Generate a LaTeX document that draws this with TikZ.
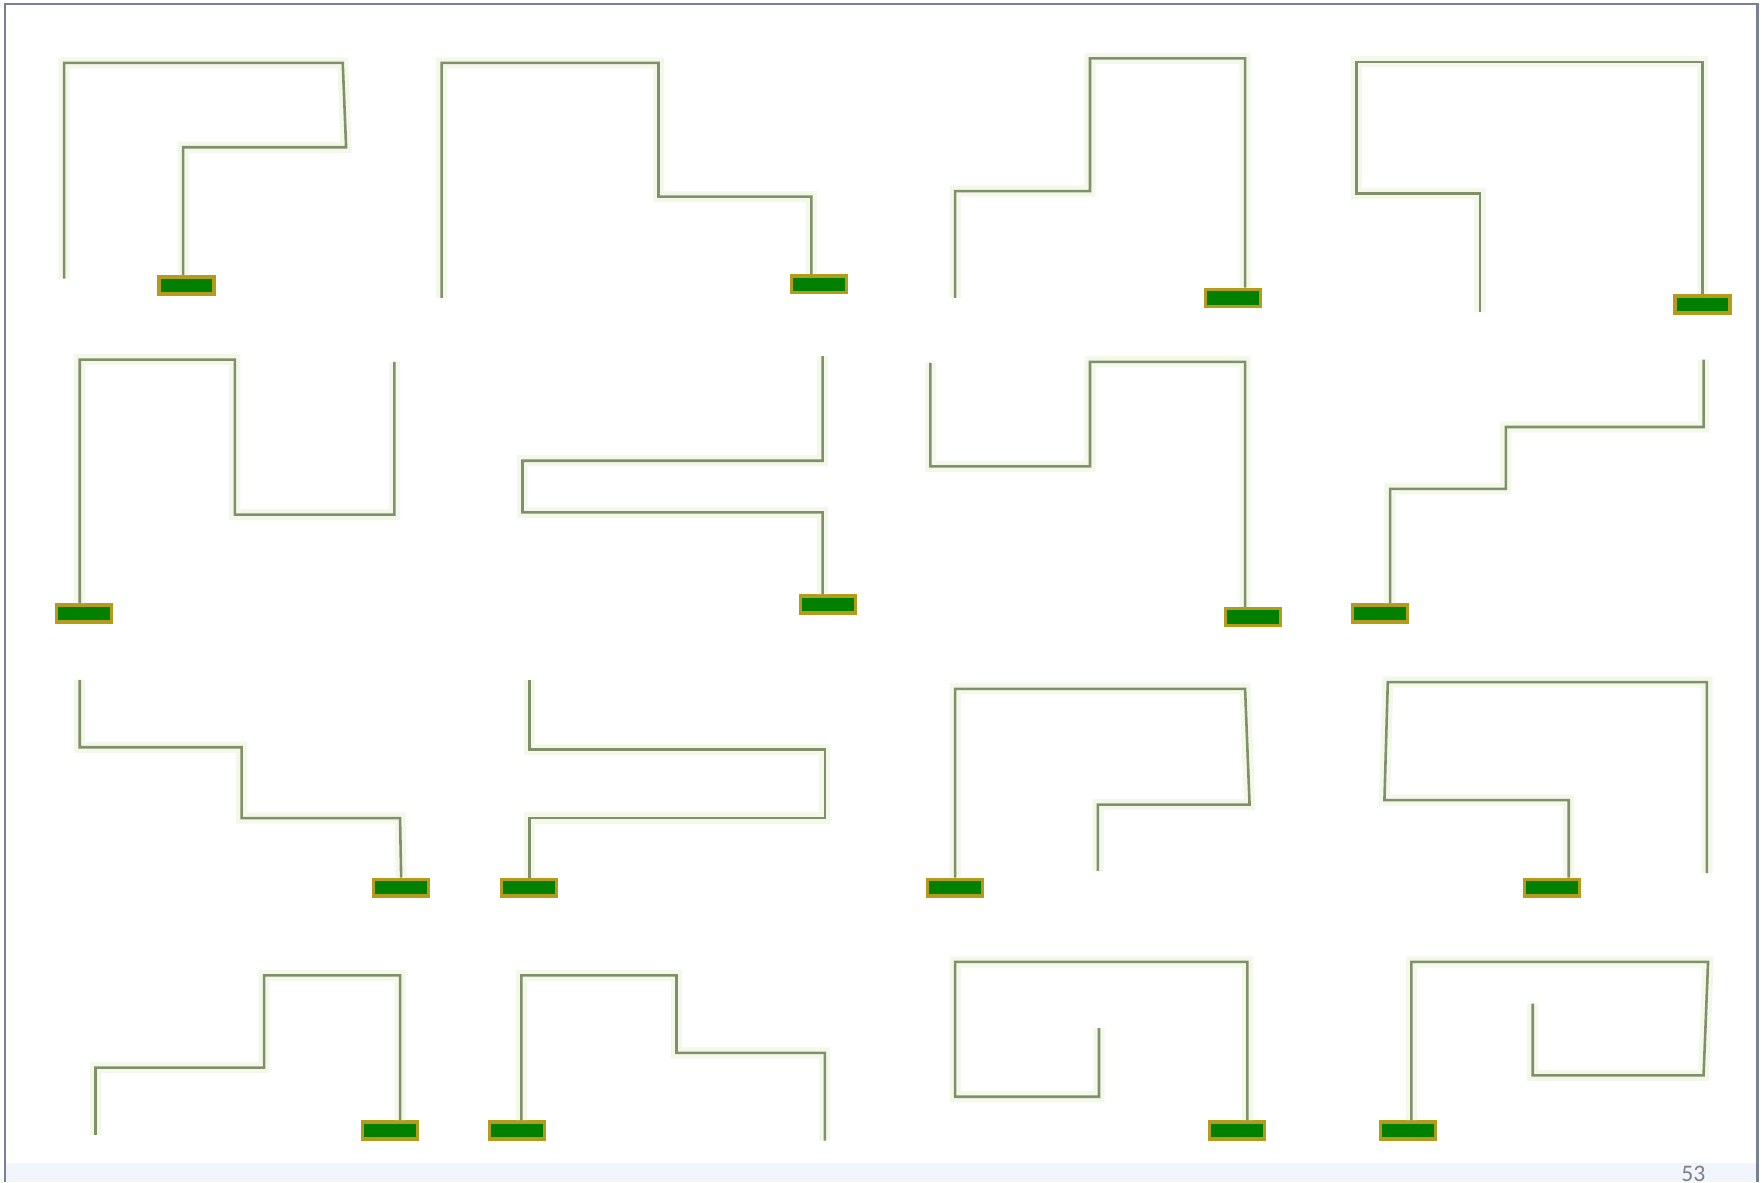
\documentclass[tikz,border=0pt]{standalone}
\usepackage{fontspec}
\setmainfont{Carlito}
\usepackage{tikz}

\definecolor{wirecol}{RGB}{128,144,104}
\definecolor{glowcol}{RGB}{228,240,208}
\definecolor{padfill}{RGB}{0,128,0}
\definecolor{padedge}{RGB}{180,155,25}
\definecolor{framecol}{RGB}{120,128,150}
\definecolor{bandcol}{RGB}{240,246,252}

\begin{document}
\begin{tikzpicture}[x=0.1mm, y=-0.1mm,
  wire/.style={draw=wirecol, line width=0.23mm, line join=miter,
    preaction={draw=glowcol, line width=1mm, opacity=0.45}},
  pad/.style={draw=padedge, fill=padfill, line width=0.3mm, inner sep=0pt,
    minimum width=4.9mm, minimum height=1.5mm}]
  \useasboundingbox (0,0) rectangle (1568,1052);
  % frame
  \fill[bandcol] (4.5,1035) rectangle (1564,1052);
  \draw[framecol, line width=0.25mm] (4.5,1052)--(4.5,3.5)--(1564,3.5)--(1564,1052);
  % pads
  \node[pad] (pA) at (166,254) {};
  \node[pad] (pB) at (729,253) {};
  \node[pad] (pC) at (1097,265) {};
  \node[pad] (pD) at (1515,271) {};
  \node[pad] (pE) at (75,546) {};
  \node[pad] (pF) at (737,538) {};
  \node[pad] (pG) at (1115,549) {};
  \node[pad] (pH) at (1228,546) {};
  \node[pad] (pI) at (357,790) {};
  \node[pad] (pJ) at (471,790) {};
  \node[pad] (pK) at (850,790) {};
  \node[pad] (pL) at (1381,790) {};
  \node[pad] (pM) at (347,1006) {};
  \node[pad] (pN) at (460,1006) {};
  \node[pad] (pO) at (1101,1006) {};
  \node[pad] (pP) at (1253,1006) {};
  % free ends
  \coordinate (eA) at (57,248);
  \coordinate (eB) at (393,265);
  \coordinate (eC) at (850,265);
  \coordinate (eD) at (1317,278);
  \coordinate (eE) at (351,322);
  \coordinate (eF) at (732,317);
  \coordinate (eG) at (828,323);
  \coordinate (eH) at (1516,320);
  \coordinate (eI) at (71,605);
  \coordinate (eJ) at (471,605);
  \coordinate (eK) at (977,775);
  \coordinate (eL) at (1519,777);
  \coordinate (eM) at (85,1010);
  \coordinate (eN) at (734,1015);
  \coordinate (eO) at (978,915);
  \coordinate (eP) at (1364,893);
  % row 1
  \draw[wire] ([xshift=-0.3mm]pA.north)--(163,131)--(308,131)--(305,56)--(57,56)--(eA);
  \draw[wire] ([xshift=-0.7mm]pB.north)--(722,175)--(586,175)--(586,56)--(393,56)--(eB);
  \draw[wire] ([xshift=1.1mm]pC.north)--(1108,52)--(970,52)--(970,170)--(850,170)--(eC);
  \draw[wire] (pD.north)--(1515,55)--(1207,55)--(1207,172)--(1317,172)--(eD);
  % row 2
  \draw[wire] ([xshift=-0.4mm]pE.north)--(71,320)--(209,320)--(209,458)--(351,458)--(eE);
  \draw[wire] ([xshift=-0.5mm]pF.north)--(732,456)--(465,456)--(465,410)--(732,410)--(eF);
  \draw[wire] ([xshift=-0.7mm]pG.north)--(1108,322)--(970,322)--(970,415)--(828,415)--(eG);
  \draw[wire] ([xshift=0.9mm]pH.north)--(1237,435)--(1340,435)--(1340,380)--(1516,380)--(eH);
  % row 3
  \draw[wire] (pI.north)--(356,728)--(215,728)--(215,665)--(71,665)--(eI);
  \draw[wire] (pJ.north)--(471,728)--(734,728)--(734,667)--(471,667)--(eJ);
  \draw[wire] (pK.north)--(850,613)--(1108,613)--(1112,716)--(977,716)--(eK);
  \draw[wire] ([xshift=1.5mm]pL.north)--(1396,712)--(1232,712)--(1235,607)--(1519,607)--(eL);
  % row 4
  \draw[wire] ([xshift=0.9mm]pM.north)--(356,868)--(235,868)--(235,950)--(85,950)--(eM);
  \draw[wire] ([xshift=0.4mm]pN.north)--(464,868)--(602,868)--(602,937)--(734,937)--(eN);
  \draw[wire] ([xshift=0.9mm]pO.north)--(1110,856)--(850,856)--(850,976)--(978,976)--(eO);
  \draw[wire] ([xshift=0.3mm]pP.north)--(1256,856)--(1520,856)--(1516,957)--(1364,957)--(eP);
  % page number
  \node[anchor=base, text=gray, font=\fontsize{6}{7}\selectfont] (pnum) at (1507,1051) {53};
\end{tikzpicture}
\end{document}
